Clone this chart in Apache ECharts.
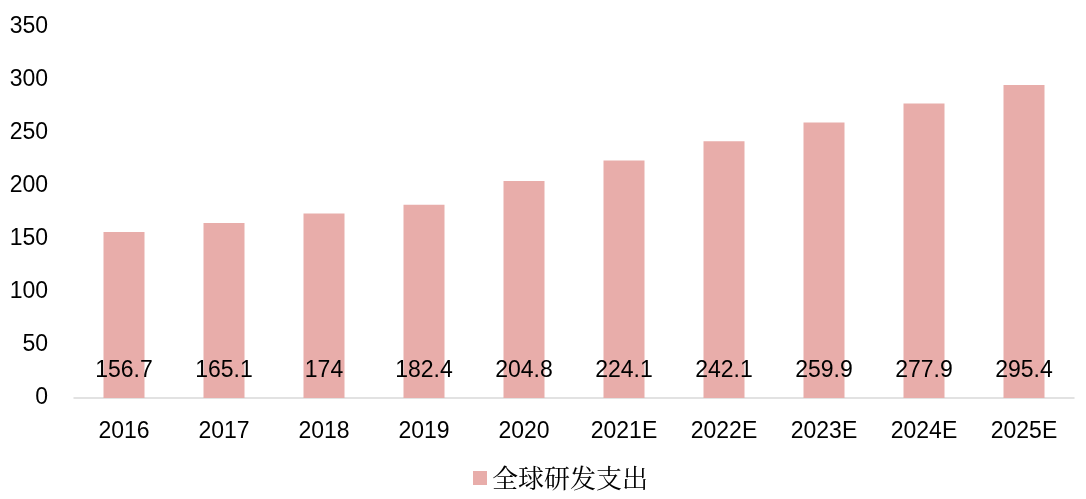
<!DOCTYPE html>
<html>
<head>
<meta charset="utf-8">
<title>全球研发支出</title>
<script src="https://cdn.jsdelivr.net/npm/echarts@6/dist/echarts.min.js"></script>
<style>
  html, body { margin: 0; padding: 0; background: #fff; }
  #chart { width: 1086px; height: 499px; }
</style>
</head>
<body>
<div id="chart"></div>
<script>
// 年份
const years = ['2016', '2017', '2018', '2019', '2020', '2021E', '2022E', '2023E', '2024E', '2025E']
// 全球研发支出
const spending = [156.7, 165.1, 174, 182.4, 204.8, 224.1, 242.1, 259.9, 277.9, 295.4]
const seriesName = '全球研发支出'

const numFont = '"Liberation Sans", Arial, sans-serif'

const myChart = echarts.init(document.getElementById('chart'))
const option = {
    animation: false,
    grid: {
        left: 74,
        right: 12,
        top: 27,
        bottom: 101
    },
    legend: {
        bottom: 3,
        left: 468,
        itemWidth: 14,
        itemHeight: 14,
        itemGap: 9,
        icon: 'rect',
        textStyle: {
            fontFamily: '"Noto Serif CJK SC", "Noto Sans CJK SC", serif',
            fontSize: 26,
            color: '#000'
        },
        data: [seriesName]
    },
    xAxis: {
        type: 'category',
        data: years,
        axisLine: { lineStyle: { color: '#d9d9d9', width: 1.5 } },
        axisTick: { show: false },
        axisLabel: {
            interval: 0,
            color: '#000',
            fontSize: 23,
            fontFamily: numFont,
            margin: 22
        }
    },
    yAxis: {
        type: 'value',
        min: 0,
        max: 350,
        interval: 50,
        splitLine: { show: false },
        axisLine: { show: false },
        axisTick: { show: false },
        axisLabel: {
            color: '#000',
            fontSize: 23,
            fontFamily: numFont,
            margin: 26
        }
    },
    series: [
        {
            name: seriesName,
            type: 'bar',
            data: spending,
            barWidth: 41,
            itemStyle: { color: '#e8adaa' },
            label: {
                show: true,
                position: 'insideBottom',
                distance: 16,
                color: '#000',
                fontSize: 23,
                fontFamily: numFont
            }
        }
    ]
}
myChart.setOption(option)
</script>
</body>
</html>
